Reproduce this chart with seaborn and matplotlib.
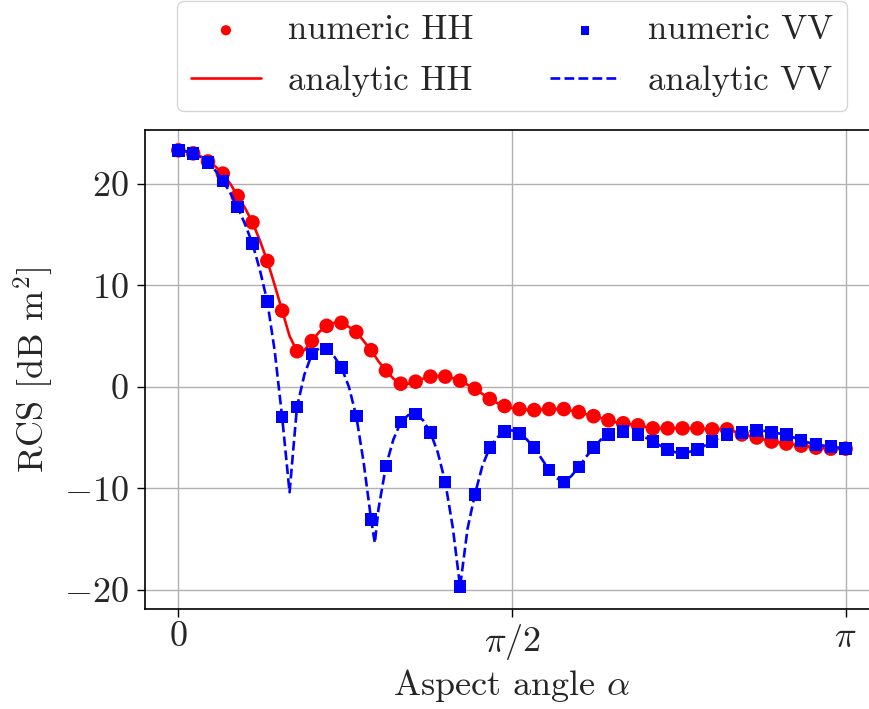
import numpy as np
import pandas as pd
import matplotlib
matplotlib.use("Agg")
import matplotlib.pyplot as plt
import seaborn as sns

# numeric samples (every 4 degrees)
num_deg = list(range(0, 181, 4))
num_hh = [23.3, 23.0, 22.2, 21.0, 18.8, 16.2, 12.4, 7.5, 3.5, 4.5,
          6.0, 6.3, 5.4, 3.6, 1.6, 0.3, 0.5, 1.0, 1.0, 0.6,
          -0.2, -1.2, -1.9, -2.2, -2.3, -2.2, -2.2, -2.5, -2.9, -3.3,
          -3.6, -3.8, -4.1, -4.1, -4.1, -4.1, -4.2, -4.2, -4.7, -5.0,
          -5.4, -5.6, -5.8, -6.0, -6.1, -6.1]
num_vv = [23.3, 23.0, 22.1, 20.3, 17.7, 14.1, 8.4, -3.0, -2.0, 3.2,
          3.7, 1.9, -2.9, -13.1, -7.8, -3.5, -2.7, -4.5, -9.4, -19.7,
          -10.6, -6.0, -4.4, -4.6, -6.0, -8.2, -9.4, -7.9, -6.0, -4.7,
          -4.4, -4.7, -5.4, -6.2, -6.5, -6.2, -5.4, -4.7, -4.5, -4.3,
          -4.5, -4.7, -5.3, -5.7, -5.9, -6.1]

# analytic curves
an_deg = [0, 2, 4, 6, 8, 10, 12, 14, 16, 18, 20, 22, 24, 26, 28, 30, 32, 34, 36, 38,
          40, 42, 44, 46, 48, 50, 52, 53, 54, 56, 58, 60, 62, 64, 66, 68, 70, 72, 74, 76,
          78, 80, 82, 84, 86, 88, 90, 92, 94, 96, 98, 100, 102, 104, 106, 108, 110, 112,
          114, 116, 118, 120, 122, 124, 126, 128, 130, 132, 134, 136, 138, 140, 142, 144,
          146, 148, 150, 152, 154, 156, 158, 160, 162, 164, 166, 168, 170, 172, 174, 176,
          178, 180]
an_hh = [23.3, 23.2, 23.0, 22.7, 22.2, 21.7, 21.0, 20.0, 18.8, 17.6, 16.2, 14.4, 12.4, 10.0,
         7.5, 5.0, 3.5, 3.6, 4.5, 5.4, 6.0, 6.3, 6.3, 5.9, 5.4, 4.5, 3.6, 3.05, 2.5, 1.6,
         0.8, 0.3, 0.3, 0.5, 0.8, 1.0, 1.05, 1.0, 0.85, 0.6, 0.2, -0.2, -0.7, -1.2, -1.6,
         -1.9, -2.1, -2.2, -2.25, -2.3, -2.25, -2.2, -2.2, -2.2, -2.35, -2.5, -2.7, -2.9,
         -3.1, -3.3, -3.5, -3.6, -3.7, -3.8, -3.95, -4.1, -4.1, -4.1, -4.1, -4.1, -4.1,
         -4.1, -4.15, -4.2, -4.2, -4.2, -4.4, -4.7, -4.85, -5.0, -5.2, -5.4, -5.5, -5.6,
         -5.7, -5.8, -5.9, -6.0, -6.05, -6.1, -6.1, -6.1]
an_vv = [23.3, 23.2, 23.0, 22.6, 22.1, 21.3, 20.3, 19.1, 17.7, 16.0, 14.1, 11.5, 8.4, 3.5,
         -3.0, -10.4, -2.0, 1.2, 3.2, 3.8, 3.7, 3.0, 1.9, 0.0, -2.9, -7.5, -13.1, -15.4,
         -12.0, -7.8, -5.2, -3.5, -2.8, -2.7, -3.3, -4.5, -6.5, -9.4, -13.8, -19.7, -14.0,
         -10.6, -7.8, -6.0, -5.0, -4.4, -4.3, -4.6, -5.2, -6.0, -7.1, -8.2, -9.0, -9.4,
         -8.8, -7.9, -6.9, -6.0, -5.2, -4.7, -4.5, -4.4, -4.5, -4.7, -5.0, -5.4, -5.8,
         -6.2, -6.45, -6.5, -6.4, -6.2, -5.8, -5.4, -5.0, -4.7, -4.55, -4.5, -4.4, -4.3,
         -4.35, -4.5, -4.6, -4.7, -5.0, -5.3, -5.5, -5.7, -5.8, -5.9, -6.0, -6.1]

num_df = pd.DataFrame({"alpha": np.deg2rad(num_deg), "hh": num_hh, "vv": num_vv})
an_df = pd.DataFrame({"alpha": np.deg2rad(an_deg), "hh": an_hh, "vv": an_vv})

sns.set_theme(style="ticks")
plt.rcParams["font.family"] = ["cmr10", "DejaVu Serif"]
plt.rcParams["mathtext.fontset"] = "cm"
plt.rcParams["axes.formatter.use_mathtext"] = True
plt.rcParams["axes.unicode_minus"] = True

FS = 26
LFS = 25
fig = plt.figure(figsize=(8.7, 7.09), dpi=100)
ax = fig.add_axes([145 / 870, 1 - 609 / 709, 734 / 870, (609 - 130) / 709])

sns.scatterplot(data=num_df, x="alpha", y="hh", ax=ax, color="red", marker="o",
                s=110, edgecolor="none", label="numeric HH", zorder=3)
sns.lineplot(data=an_df, x="alpha", y="hh", ax=ax, color="red", lw=1.9,
             label="analytic HH", zorder=3.1, sort=False)
sns.scatterplot(data=num_df, x="alpha", y="vv", ax=ax, color="blue", marker="s",
                s=80, edgecolor="none", label="numeric VV", zorder=3.2)
sns.lineplot(data=an_df, x="alpha", y="vv", ax=ax, color="blue", lw=1.9,
             linestyle="--", label="analytic VV", zorder=3.3, sort=False)

ax.set_xlim(-0.157, np.pi + 0.157)
ax.set_ylim(-21.9, 25.3)
ax.set_xticks([0, np.pi / 2, np.pi])
ax.set_xticklabels([r"$0$", r"$\pi/2$", r"$\pi$"])
yt = [-20, -10, 0, 10, 20]
ax.set_yticks(yt)
ax.set_yticklabels([r"$%d$" % v for v in yt])
ax.tick_params(labelsize=FS, length=5.5, width=1.0, color="black")
ax.tick_params(axis="y", pad=6)
ax.set_xlabel(r"Aspect angle $\alpha$", fontsize=FS, labelpad=4)
ax.set_ylabel(r"RCS [dB m$^2$]", fontsize=FS, labelpad=6)
ax.grid(True, color="#b0b0b0", lw=1.0)
ax.set_axisbelow(True)
for sp in ax.spines.values():
    sp.set_color("black")
    sp.set_linewidth(1.2)
ax.spines["right"].set_visible(False)

h, l = ax.get_legend_handles_labels()
ax.get_legend().remove()
fig.legend(h, l, loc="lower center", bbox_to_anchor=(512 / 870, 1 - 111 / 709),
           ncol=2, fontsize=LFS, frameon=True, fancybox=True, framealpha=0.8,
           edgecolor="#cccccc", markerscale=0.7, borderpad=0.4, labelspacing=0.55,
           borderaxespad=0.0, columnspacing=2.2)

fig.savefig("out.png", dpi=100)
